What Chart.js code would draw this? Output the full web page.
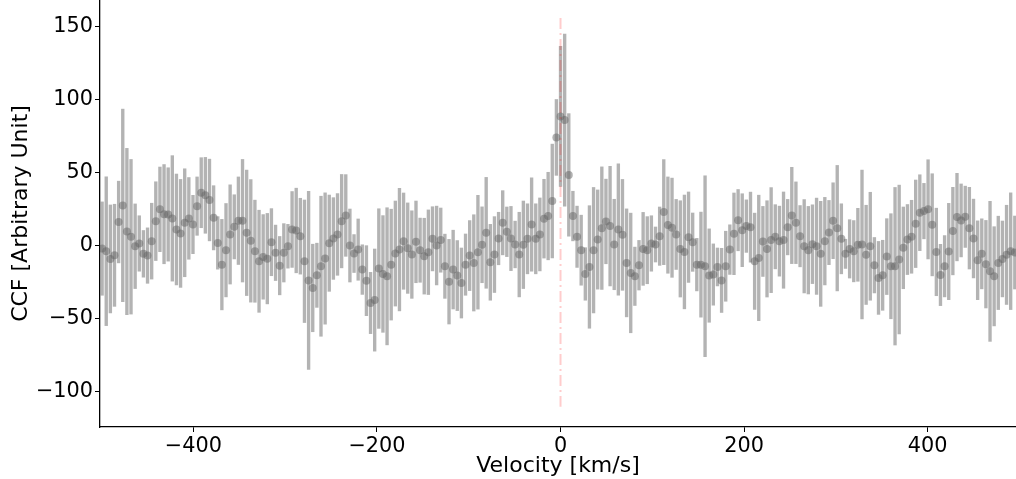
<!DOCTYPE html>
<html>
<head>
<meta charset="utf-8">
<script src="https://cdn.jsdelivr.net/npm/chart.js@4"></script>
<style>
  html, body { margin: 0; padding: 0; background: #fff; }
  #wrap { width: 1016px; height: 479px; }
</style>
</head>
<body>
<div id="wrap"><canvas id="ccf" width="1016" height="479"></canvas></div>
<script>
// velocity grid of the CCF (km/s)
const velocity = [
  -499.5,-495,-490.5,-486,-481.5,-477,-472.5,-468,-463.5,-459,
  -454.5,-450,-445.5,-441,-436.5,-432,-427.5,-423,-418.5,-414,
  -409.5,-405,-400.5,-396,-391.5,-387,-382.5,-378,-373.5,-369,
  -364.5,-360,-355.5,-351,-346.5,-342,-337.5,-333,-328.5,-324,
  -319.5,-315,-310.5,-306,-301.5,-297,-292.5,-288,-283.5,-279,
  -274.5,-270,-265.5,-261,-256.5,-252,-247.5,-243,-238.5,-234,
  -229.5,-225,-220.5,-216,-211.5,-207,-202.5,-198,-193.5,-189,
  -184.5,-180,-175.5,-171,-166.5,-162,-157.5,-153,-148.5,-144,
  -139.5,-135,-130.5,-126,-121.5,-117,-112.5,-108,-103.5,-99,
  -94.5,-90,-85.5,-81,-76.5,-72,-67.5,-63,-58.5,-54,
  -49.5,-45,-40.5,-36,-31.5,-27,-22.5,-18,-13.5,-9,
  -4.5,0,4.5,9,13.5,18,22.5,27,31.5,36,
  40.5,45,49.5,54,58.5,63,67.5,72,76.5,81,
  85.5,90,94.5,99,103.5,108,112.5,117,121.5,126,
  130.5,135,139.5,144,148.5,153,157.5,162,166.5,171,
  175.5,180,184.5,189,193.5,198,202.5,207,211.5,216,
  220.5,225,229.5,234,238.5,243,247.5,252,256.5,261,
  265.5,270,274.5,279,283.5,288,292.5,297,301.5,306,
  310.5,315,319.5,324,328.5,333,337.5,342,346.5,351,
  355.5,360,364.5,369,373.5,378,382.5,387,391.5,396,
  400.5,405,409.5,414,418.5,423,427.5,432,436.5,441,
  445.5,450,454.5,459,463.5,468,472.5,477,481.5,486,
  490.5,495
];

// CCF values (arbitrary units)
const ccf = [
  -2.1,-3.9,-9.2,-6.7,16.1,27.5,9.6,6.0,-0.5,1.4,-5.7,-6.9,3.0,16.7,24.8,21.5,21.3,18.6,11.0,8.3,
  15.6,18.6,14.4,27.0,36.2,34.4,31.2,19.0,1.8,-13.1,-3.2,7.6,12.8,17.0,17.0,8.7,3.2,-3.9,-10.8,
  -7.8,-9.0,2.3,-5.0,-13.8,-5.0,-0.5,11.0,10.3,6.4,-10.8,-23.9,-29.1,-20.4,-14.2,-8.9,1.6,4.8,7.6,16.7,
  20.6,0.0,-5.5,-2.8,-16.5,-24.1,-39.4,-37.4,-15.8,-19.5,-21.1,-13.1,-5.5,-2.8,3.0,-1.8,-6.2,
  2.5,-3.2,-7.3,-4.6,4.6,0.0,3.7,-14.2,-24.8,-16.5,-20.6,-25.7,-13.1,-6.9,-11.9,-4.6,0.5,8.7,-11.5,-6.2,
  4.8,15.6,9.4,4.8,0.7,-6.2,0.5,4.6,14.4,4.6,7.6,18.4,20.2,30.5,74.1,88.5,86.0,48.4,20.2,6.0,
  -3.2,-19.5,-14.7,-3.2,4.1,11.9,16.5,13.3,0.7,11.0,7.3,-11.9,-18.8,-21.1,-13.5,-2.3,-3.2,1.4,0.7,6.4,
  22.9,14.0,12.2,7.6,-2.3,-4.4,5.7,2.3,-13.1,-13.1,-14.2,-20.6,-19.9,-14.7,-23.9,-14.2,
  -2.8,8.0,17.4,10.5,13.3,12.6,-10.8,-8.5,2.8,-2.3,3.7,6.0,3.0,3.7,12.6,20.6,15.6,6.4,-0.5,-3.2,
  0.9,-0.5,-5.7,3.0,8.9,17.0,11.9,4.6,-5.7,-2.3,-3.9,0.5,0.7,-6.4,-0.5,-13.5,-22.2,
  -20.4,-7.6,-14.2,-14.2,-9.6,-1.6,4.1,6.0,14.9,22.5,23.6,24.8,14.2,-4.4,-20.2,-14.2,-4.1,9.9,19.5,17.2,
  19.7,11.9,4.8,-10.1,-5.7,-12.8,-17.7,-21.1,-11.9,-9.2,-6.4,-3.9,-4.8
];

// 1-sigma uncertainties
const ccfErr = [
  32,51,37,35,28,66,57,53,29,19,16,19,26,27,29,34,32,43,38,37,
  37,28,20,20,24,26,28,22,18,31,32,34,22,30,42,43,42,35,35,
  29,31,23,19,20,20,15,26,29,26,42,61,30,22,48,45,33,28,28,32,
  28,25,13,21,17,24,21,35,41,40,47,38,36,42,33,31,30,
  28,22,26,29,22,27,22,22,29,27,24,24,21,24,33,39,26,38,26,26,
  18,22,17,22,16,29,30,24,32,24,25,27,30,39,26,48,59,42,17,21,
  24,18,42,43,34,42,29,41,31,45,38,37,41,20,17,25,23,19,12,20,
  36,33,34,24,33,39,31,20,18,36,62,32,21,13,22,24,
  17,28,21,25,18,24,33,43,24,33,36,22,24,33,19,33,28,21,32,30,
  27,33,36,30,22,26,43,24,10,20,21,25,51,34,37,19,25,
  24,26,36,54,51,28,24,25,30,26,19,34,35,30,21,21,33,30,30,25,
  21,28,27,27,24,30,48,34,32,26,34,40,25
];

// systemic velocity marker
const markerV = 0;
const markerY = [156, -110.5];

const xTicks = [-400, -200, 0, 200, 400];
const yTicks = [-100, -50, 0, 50, 100, 150];
const xRange = [-501.8, 496.3];
const yRange = [-124.4, 168.3];

const FONT = 'DejaVu Sans';

const errBars = velocity.map((v, i) => ({ x: v, y: [ccf[i] - ccfErr[i], ccf[i] + ccfErr[i]] }));
const points = velocity.map((v, i) => ({ x: v, y: ccf[i] }));
const marker = markerY.map(y => ({ x: markerV, y: y }));

const fmt = v => (v < 0 ? '\u2212' + Math.abs(v) : String(v));

new Chart(document.getElementById('ccf'), {
  type: 'scatter',
  data: {
    datasets: [
      {
        type: 'line',
        data: marker,
        borderColor: 'rgba(255, 0, 0, 0.2)',
        borderWidth: 2,
        borderDash: [11, 4, 2, 4],
        pointRadius: 0,
        order: 0
      },
      {
        type: 'scatter',
        data: points,
        backgroundColor: 'rgba(100, 100, 100, 0.5)',
        borderWidth: 0,
        pointRadius: 4,
        order: 1
      },
      {
        type: 'bar',
        data: errBars,
        backgroundColor: 'rgba(128, 128, 128, 0.6)',
        borderWidth: 0,
        barThickness: 2.7,
        grouped: false,
        order: 2
      }
    ]
  },
  options: {
    responsive: false,
    animation: false,
    devicePixelRatio: 1,
    layout: { padding: 0, autoPadding: false },
    plugins: {
      legend: { display: false },
      tooltip: { enabled: false }
    },
    scales: {
      x: {
        type: 'linear',
        min: xRange[0],
        max: xRange[1],
        offset: false,
        afterBuildTicks: axis => { axis.ticks = xTicks.map(v => ({ value: v })); },
        afterFit: axis => {
          axis.height = 52;
          axis.paddingLeft = 0;
          axis.paddingRight = 0;
        },
        grid: { display: true, drawOnChartArea: false, drawTicks: true, tickLength: 5, color: '#000', offset: false },
        border: { display: true, color: '#000', width: 1.3 },
        ticks: {
          color: '#000',
          padding: 2,
          maxRotation: 0,
          font: { family: FONT, size: 20.8 },
          callback: v => fmt(v)
        },
        title: {
          display: true,
          text: 'Velocity [km/s]',
          color: '#000',
          font: { family: FONT, size: 22 },
          padding: { top: 0, bottom: 0 }
        }
      },
      y: {
        type: 'linear',
        min: yRange[0],
        max: yRange[1],
        afterBuildTicks: axis => { axis.ticks = yTicks.map(v => ({ value: v })); },
        afterFit: axis => {
          axis.width = 100;
          axis.paddingTop = 0;
          axis.paddingBottom = 0;
        },
        grid: { display: true, drawOnChartArea: false, drawTicks: true, tickLength: 5, color: '#000' },
        border: { display: true, color: '#000', width: 1.3 },
        ticks: {
          color: '#000',
          padding: 2,
          font: { family: FONT, size: 20.8 },
          callback: v => fmt(v)
        },
        title: {
          display: true,
          text: 'CCF [Arbitrary Unit]',
          color: '#000',
          font: { family: FONT, size: 22 },
          padding: { top: 8, bottom: 0 }
        }
      }
    }
  }
});
</script>
</body>
</html>
